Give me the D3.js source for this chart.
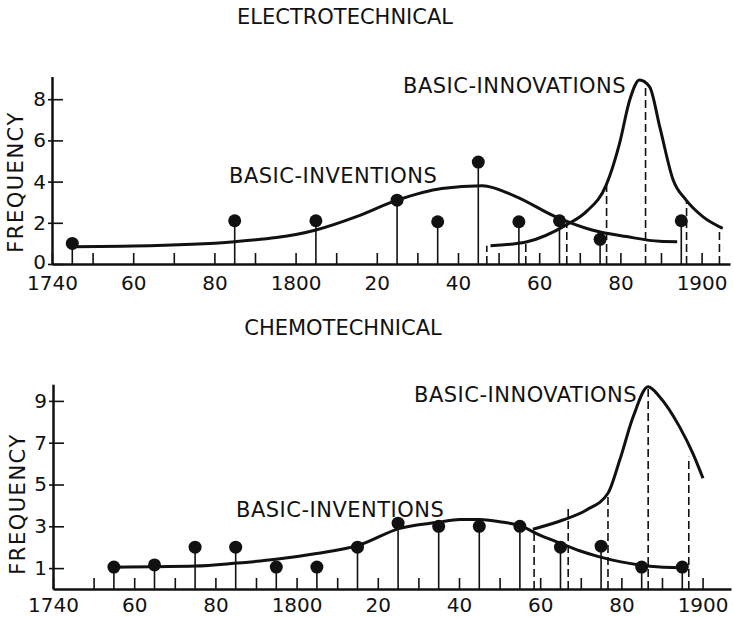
<!DOCTYPE html>
<html>
<head>
<meta charset="utf-8">
<script src="https://cdn.jsdelivr.net/npm/d3@7"></script>
<style>
  body { margin: 0; background: #fff; }
  svg text { font-family: "DejaVu Sans", sans-serif; fill: #111; }
</style>
</head>
<body>
<div id="chart"></div>
<script>
// x axis ticks (every decade) and the labels shown under every second one
var tickYears = [1740,1750,1760,1770,1780,1790,1800,1810,1820,1830,1840,1850,1860,1870,1880,1890,1900];
var labelYears = [1740,1760,1780,1800,1820,1840,1860,1880,1900];
var tickLabels = ["1740","60","80","1800","20","40","60","80","1900"];

// ELECTROTECHNICAL
var electroYTicks = [0,2,4,6,8];
var electroDotYears = [1745,1785,1805,1825,1835,1845,1855,1865,1875,1895];
var electroDotCounts = [1,2.1,2.1,3.1,2.05,4.95,2.05,2.1,1.2,2.1];
var electroInvYears = [1745,1760,1785,1805,1815,1825,1836,1846,1854,1864,1873,1881.5,1889.7,1894];
var electroInvValues = [0.84,0.87,1.08,1.65,2.3,3.1,3.67,3.8,3.3,2.3,1.65,1.33,1.1,1.08];
var electroInnYears = [1848,1856.8,1866.7,1871.6,1876.5,1879.8,1882.3,1884.7,1887.2,1889.7,1893,1896.2,1900.3,1905.2];
var electroInnValues = [0.89,1.07,1.9,2.54,3.83,5.86,7.96,8.93,8.6,6.66,4.08,3.1,2.3,1.73];
var electroDashYears = [1847.1,1856.7,1866.8,1876.6,1886.2,1896.3,1904.4];
var electroDashValues = [0.89,1.05,2.0,3.8,8.8,3.1,1.75];

// CHEMOTECHNICAL
var chemoYTicks = [1,3,5,7,9];
var chemoDotYears = [1755,1765,1775,1785,1795,1805,1815,1825,1835,1845,1855,1865,1875,1885,1895];
var chemoDotCounts = [1.05,1.15,2,2,1.05,1.05,2,3.15,3,3,3,2,2.05,1.05,1.05];
var chemoInvYears = [1755,1765,1775,1784.6,1794.9,1804.9,1815.4,1825.4,1834.8,1840.2,1845.1,1850,1855,1859.9,1864.6,1869.7,1874.4,1879.6,1884.5,1889.5,1894];
var chemoInvValues = [1.04,1.07,1.1,1.23,1.42,1.7,2.1,2.9,3.19,3.33,3.33,3.22,3.03,2.58,2.22,1.83,1.55,1.31,1.15,1.05,1.02];
var chemoInnYears = [1858.2,1865.6,1871.4,1876.7,1879.6,1882.9,1886.6,1889.4,1894.3,1897.6,1900.1];
var chemoInnValues = [2.86,3.3,3.78,4.58,6.17,8.24,9.68,9.2,7.77,6.49,5.3];
var chemoDashYears = [1858.5,1866.9,1876.7,1886.6,1896.6];
var chemoDashValues = [2.86,3.94,4.58,9.68,6.33];

var svg = d3.select("#chart").append("svg")
  .attr("width", 734)
  .attr("height", 618);

function drawPanel(p) {
  var x = d3.scaleLinear().domain([1740, 1907]).range([p.left, p.left + 678]);
  var y = d3.scaleLinear().domain([0, p.yMax]).range([p.base, p.base - p.yMax * p.unit]);
  var g = svg.append("g");

  // title
  g.append("text")
    .attr("x", p.titleX).attr("y", p.titleY)
    .attr("text-anchor", "middle")
    .style("font-size", "21px")
    .text(p.title);

  // stems + dots (basic inventions)
  var dots = p.dotYears.map(function(d, i) { return [d, p.dotCounts[i]]; });
  g.selectAll(".stem").data(dots).enter().append("line")
    .attr("x1", function(d) { return x(d[0]); })
    .attr("x2", function(d) { return x(d[0]); })
    .attr("y1", y(0))
    .attr("y2", function(d) { return y(d[1]); })
    .attr("stroke", "#111").attr("stroke-width", 1.6);
  g.selectAll(".dot").data(dots).enter().append("circle")
    .attr("cx", function(d) { return x(d[0]); })
    .attr("cy", function(d) { return y(d[1]); })
    .attr("r", 6.5)
    .attr("fill", "#111");

  // dashed markers (basic innovations)
  var dashes = p.dashYears.map(function(d, i) { return [d, p.dashValues[i]]; });
  g.selectAll(".dash").data(dashes).enter().append("line")
    .attr("x1", function(d) { return x(d[0]); })
    .attr("x2", function(d) { return x(d[0]); })
    .attr("y1", y(0))
    .attr("y2", function(d) { return y(d[1]); })
    .attr("stroke", "#111").attr("stroke-width", 1.6)
    .attr("stroke-dasharray", "8,4");

  var line = d3.line()
    .x(function(d) { return x(d[0]); })
    .y(function(d) { return y(d[1]); })
    .curve(d3.curveMonotoneX);

  g.append("path")
    .datum(p.invYears.map(function(d, i) { return [d, p.invValues[i]]; }))
    .attr("d", line)
    .attr("fill", "none").attr("stroke", "#111").attr("stroke-width", 3);
  g.append("path")
    .datum(p.innYears.map(function(d, i) { return [d, p.innValues[i]]; }))
    .attr("d", line)
    .attr("fill", "none").attr("stroke", "#111").attr("stroke-width", 3);

  // curve labels
  g.append("text")
    .attr("x", p.invLabel[0]).attr("y", p.invLabel[1])
    .style("font-size", "21px")
    .style("letter-spacing", "0.5px")
    .text("BASIC-INVENTIONS");
  g.append("text")
    .attr("x", p.innLabel[0]).attr("y", p.innLabel[1])
    .style("font-size", "21px")
    .style("letter-spacing", "0.5px")
    .text("BASIC-INNOVATIONS");

  // x axis
  var xAxis = g.append("g")
    .attr("transform", "translate(0," + p.base + ")")
    .call(d3.axisBottom(x)
      .tickValues(tickYears)
      .tickSize(-11)
      .tickSizeOuter(0)
      .tickPadding(p.xPad)
      .tickFormat(function(d) {
        var k = labelYears.indexOf(d);
        return k < 0 ? "" : tickLabels[k];
      }));
  xAxis.select(".domain").attr("stroke", "#111").attr("stroke-width", 2.5);
  xAxis.selectAll(".tick line").attr("stroke", "#111").attr("stroke-width", 1.6);
  xAxis.selectAll("text").style("font-size", "20px").style("font-family", "DejaVu Sans").attr("fill", "#111");

  // y axis
  var yAxis = g.append("g")
    .attr("transform", "translate(" + p.left + ",0)")
    .call(d3.axisLeft(y)
      .tickValues(p.yTicks)
      .tickSize(4)
      .tickSizeOuter(0)
      .tickPadding(2)
      .tickFormat(d3.format("d")));
  yAxis.select(".domain").attr("stroke", "#111").attr("stroke-width", 2.5);
  yAxis.selectAll(".tick line").attr("x1", 11).attr("stroke", "#111").attr("stroke-width", 1.6);
  yAxis.selectAll("text").style("font-size", "20px").style("font-family", "DejaVu Sans").attr("fill", "#111")
    .attr("dy", function(d) { return d === 0 ? "0.2em" : "0.32em"; });

  g.append("text")
    .attr("transform", "translate(" + p.freqX + "," + p.freqY + ") rotate(-90)")
    .attr("text-anchor", "middle")
    .style("font-size", "21px")
    .style("letter-spacing", "1.5px")
    .text("FREQUENCY");
}

drawPanel({
  title: "ELECTROTECHNICAL", titleX: 345, titleY: 24,
  left: 52, base: 264, unit: 20.6, yMax: 9.1, yTicks: electroYTicks, xPad: 12,
  dotYears: electroDotYears, dotCounts: electroDotCounts,
  invYears: electroInvYears, invValues: electroInvValues,
  innYears: electroInnYears, innValues: electroInnValues,
  dashYears: electroDashYears, dashValues: electroDashValues,
  invLabel: [229, 183], innLabel: [403, 93],
  freqX: 23, freqY: 182
});

drawPanel({
  title: "CHEMOTECHNICAL", titleX: 343, titleY: 335,
  left: 53, base: 589, unit: 20.9, yMax: 9.8, yTicks: chemoYTicks, xPad: 9,
  dotYears: chemoDotYears, dotCounts: chemoDotCounts,
  invYears: chemoInvYears, invValues: chemoInvValues,
  innYears: chemoInnYears, innValues: chemoInnValues,
  dashYears: chemoDashYears, dashValues: chemoDashValues,
  invLabel: [236, 517], innLabel: [414, 402],
  freqX: 25, freqY: 504
});
</script>
</body>
</html>
